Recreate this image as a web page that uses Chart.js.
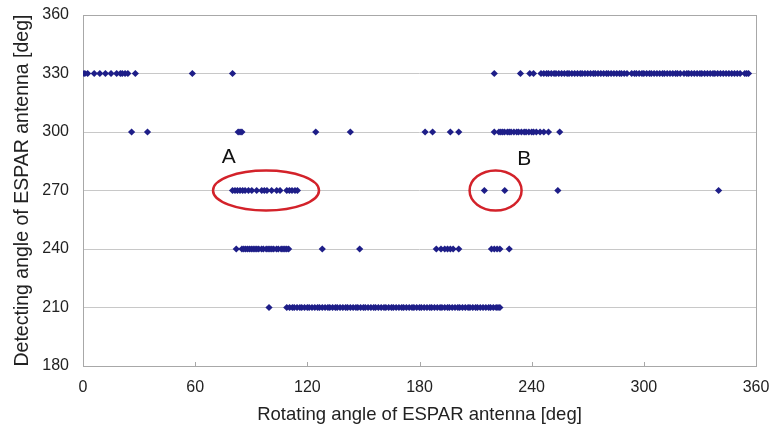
<!DOCTYPE html>
<html>
<head>
<meta charset="utf-8">
<script src="https://cdn.jsdelivr.net/npm/chart.js@4"></script>
<style>
  html, body { margin: 0; padding: 0; background: #fff; }
  #wrap { width: 771px; height: 432px; }
</style>
</head>
<body>
<div id="wrap"><canvas id="myChart"></canvas></div>
<script>
// ticks
const xTicks = [0, 60, 120, 180, 240, 300, 360]
const yTicks = [180, 210, 240, 270, 300, 330, 360]

// rotating angles, one list per detected angle
const rot330 = [0, 1, 2.5, 6, 9, 12, 15, 18, 20, 21, 22.5, 24, 28, 58.5, 80,
  220, 234, 239, 241,
  245, 246.5, 248, 249, 250.5, 252, 253, 254.5, 256, 257.5, 259, 260, 261.5, 263,
  264.5, 266, 267, 268.5, 270, 271.5, 273, 274, 275.5, 277, 278.5, 280, 281, 282.5,
  284, 285.5, 287, 288, 289.5, 291, 293.5, 295, 296, 297.5, 299, 300, 301.5, 303,
  304, 305.5, 307, 308.5, 310, 311, 312.5, 314, 315.5, 317, 318, 319.5, 321.5, 323,
  324, 325.5, 327, 328.5, 330, 331, 332.5, 334, 335.5, 337, 338, 339.5, 341, 342.5,
  344, 345.5, 347, 348.5, 350, 351.5, 354, 355, 356]
const rot300 = [26, 34.5, 83, 84, 85, 124.5, 143, 183, 187, 196.5, 201, 220, 222.5,
  223.5, 224.5, 225.5, 227, 228, 229, 230.5, 232, 233, 234.5, 236, 237, 238.5,
  240, 241, 242.5, 244.5, 246.5, 249, 255]
const rot270 = [80, 81.3, 82.6, 84, 85.4, 86.7, 88.5, 90.3, 92.9, 95.6, 97, 98.4,
  100.9, 103.6, 105.4, 109, 110.4, 111.8, 113.4, 114.7, 214.7, 225.6, 254, 340]
const rot240 = [82, 85, 86, 87, 88, 89, 90, 91, 92, 93, 94, 95.5, 96.5, 98, 99, 100,
  101, 102, 103.5, 104.5, 106, 107, 108, 109, 110, 128, 148, 189, 191.5, 193.5, 195,
  196.5, 198, 201, 218.5, 220, 221.5, 223, 228]
const rot210 = [99.5, 109, 110.5, 112, 113, 114.5, 116, 117, 118.5, 120, 121, 122.5,
  124, 125.5, 126.5, 128, 129.5, 131, 132, 133.5, 135, 136, 137.5, 139, 140.5, 141.5,
  143, 144.5, 146, 147, 148.5, 150, 151, 152.5, 154, 155.5, 156.5, 158, 159.5, 161,
  162, 163.5, 165, 166, 167.5, 169, 170.5, 171.5, 173, 174.5, 176, 177, 178.5, 180,
  181, 182.5, 184, 185.5, 186.5, 188, 189.5, 191, 192, 193.5, 195, 196, 197.5, 199,
  200.5, 201.5, 203, 204.5, 206, 207, 208.5, 210, 211, 212.5, 214, 215.5, 217, 218,
  219.5, 221, 222, 223]

const rows = [[330, rot330], [300, rot300], [270, rot270], [240, rot240], [210, rot210]]
const points = []
for (const [det, list] of rows) {
  for (const r of list) points.push({ x: r, y: det })
}

// circled groups and their letters (data units)
const circles = [
  { label: 'A', cx: 97.9, cy: 270, rx: 53, ry: 20, tx: 78, ty: 287 },
  { label: 'B', cx: 220.7, cy: 270, rx: 26, ry: 20, tx: 236, ty: 286 }
]

const frame = {
  id: 'frame',
  beforeDatasetsDraw(chart) {
    const { ctx, chartArea: a, scales } = chart
    ctx.save()
    ctx.strokeStyle = '#a8a8a8'
    ctx.lineWidth = 1
    ctx.strokeRect(a.left + 0.5, a.top + 0.5, a.right - a.left, a.bottom - a.top)
    // small inside tick marks on the x axis
    for (const t of xTicks) {
      const px = Math.round(scales.x.getPixelForValue(t)) + 0.5
      ctx.beginPath()
      ctx.moveTo(px, a.bottom)
      ctx.lineTo(px, a.bottom - 4)
      ctx.stroke()
    }
    ctx.restore()
  },
  afterDatasetsDraw(chart) {
    const { ctx, scales } = chart
    ctx.save()
    for (const c of circles) {
      const x = scales.x.getPixelForValue(c.cx)
      const y = scales.y.getPixelForValue(c.cy)
      ctx.beginPath()
      ctx.ellipse(x, y, c.rx, c.ry, 0, 0, Math.PI * 2)
      ctx.strokeStyle = '#d3222a'
      ctx.lineWidth = 2.5
      ctx.stroke()
      ctx.fillStyle = '#111'
      ctx.font = '21px "Liberation Sans", Arial, sans-serif'
      ctx.textAlign = 'center'
      ctx.textBaseline = 'middle'
      ctx.fillText(c.label, scales.x.getPixelForValue(c.tx), scales.y.getPixelForValue(c.ty))
    }
    ctx.restore()
  }
}

function noPad(s) {
  s.paddingTop = 0
  s.paddingBottom = 0
  s.paddingLeft = 0
  s.paddingRight = 0
}

const data = {
  datasets: [{
    label: 'detected',
    data: points,
    pointStyle: 'rectRot',
    pointRadius: 3.6,
    pointHoverRadius: 3.6,
    backgroundColor: '#1e1e88',
    borderColor: '#1e1e88',
    borderWidth: 0,
    showLine: false
  }]
}

const config = {
  type: 'scatter',
  data: data,
  plugins: [frame],
  options: {
    responsive: false,
    animation: false,
    layout: { padding: { top: 15, right: 15, left: 0, bottom: 0 } },
    plugins: { legend: { display: false }, tooltip: { enabled: false } },
    scales: {
      x: {
        type: 'linear',
        min: 0, max: 360,
        afterBuildTicks: (s) => { s.ticks = xTicks.map(v => ({ value: v })) },
        afterFit: (s) => { s.height = 66; noPad(s) },
        grid: { display: false, drawTicks: false },
        border: { display: false },
        ticks: { padding: 12, color: '#222', font: { size: 16, family: '"Liberation Sans", Arial, sans-serif' } },
        title: {
          display: true,
          text: 'Rotating angle of ESPAR antenna [deg]',
          color: '#222',
          font: { size: 18.5, family: '"Liberation Sans", Arial, sans-serif' },
          padding: { top: 0, bottom: 6 }
        }
      },
      y: {
        type: 'linear',
        min: 180, max: 360,
        afterBuildTicks: (s) => { s.ticks = yTicks.map(v => ({ value: v })) },
        afterFit: (s) => { s.width = 83; noPad(s) },
        grid: { color: '#c8c8c8', drawTicks: false },
        border: { display: false },
        ticks: { padding: 14, color: '#222', font: { size: 16, family: '"Liberation Sans", Arial, sans-serif' } },
        title: {
          display: true,
          text: 'Detecting angle of ESPAR antenna [deg]',
          color: '#222',
          font: { size: 19.5, family: '"Liberation Sans", Arial, sans-serif' },
          padding: { top: 11, bottom: 0 }
        }
      }
    }
  }
}

const cv = document.getElementById('myChart')
cv.width = 771
cv.height = 432
new Chart(cv, config)
</script>
</body>
</html>
